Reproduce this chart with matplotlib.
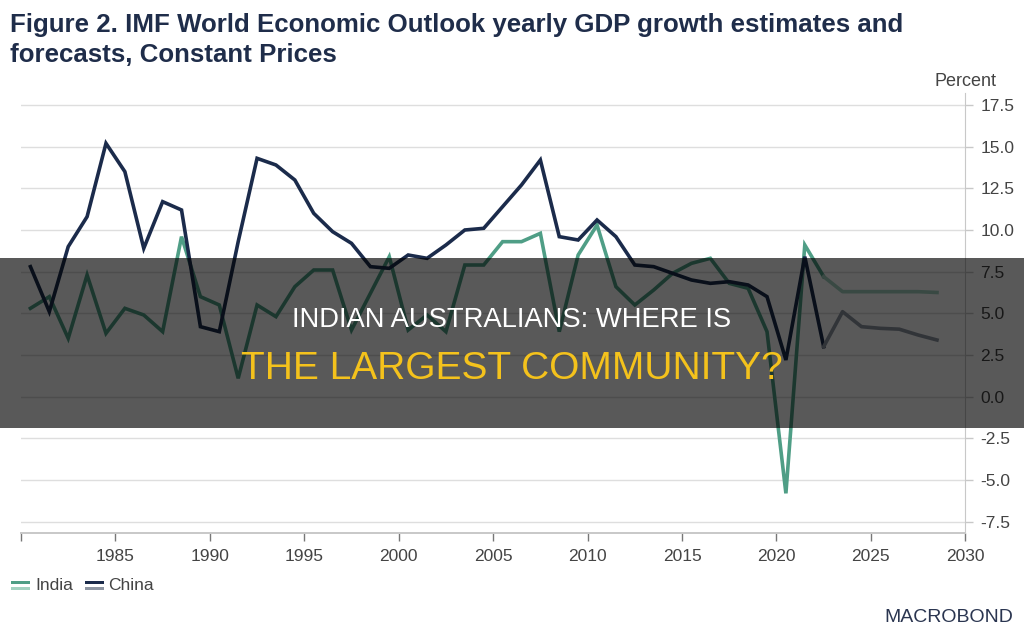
import matplotlib
matplotlib.use("Agg")
import matplotlib.pyplot as plt
from matplotlib.patches import Rectangle
import numpy as np

# ---------------- data ----------------
years = list(range(1980, 2029))
india = [5.3, 6.0, 3.5, 7.3, 3.8, 5.3, 4.9, 3.9, 9.6, 6.0,
         5.5, 1.1, 5.5, 4.8, 6.6, 7.6, 7.6, 4.0, 6.2, 8.4,
         4.0, 4.9, 3.9, 7.9, 7.9, 9.3, 9.3, 9.8, 3.9, 8.5,
         10.3, 6.6, 5.5, 6.4, 7.4, 8.0, 8.3, 6.8, 6.5, 3.9,
         -5.8, 9.1, 7.2, 6.3, 6.3, 6.3, 6.3, 6.3, 6.25]
china = [7.8, 5.1, 9.0, 10.8, 15.2, 13.5, 8.9, 11.7, 11.2, 4.2,
         3.9, 9.3, 14.3, 13.9, 13.0, 11.0, 9.9, 9.2, 7.8, 7.7,
         8.5, 8.3, 9.1, 10.0, 10.1, 11.4, 12.7, 14.2, 9.6, 9.4,
         10.6, 9.6, 7.9, 7.8, 7.4, 7.0, 6.8, 6.9, 6.7, 6.0,
         2.2, 8.4, 3.0, 5.1, 4.2, 4.1, 4.05, 3.7, 3.4]
last_actual = 2022
series_names = ["India", "China"]

title_line1 = "Figure 2. IMF World Economic Outlook yearly GDP growth estimates and"
title_line2 = "forecasts, Constant Prices"
banner_line1 = "INDIAN AUSTRALIANS: WHERE IS"
banner_line2 = "THE LARGEST COMMUNITY?"

# ---------------- style ----------------
c_india = "#4f9e86"
c_india_f = "#a3d2c1"
c_china = "#1b2b4b"
c_china_f = "#8d95a2"
grid_c = "#dedede"
axis_c = "#c8c8c8"
text_c = "#444444"
title_c = "#1f2d4a"

plt.rcParams["font.family"] = ["Liberation Sans", "DejaVu Sans"]

fig = plt.figure(figsize=(10.24, 6.4), dpi=100)
ax = fig.add_axes([0.0205, 0.1677, 0.9222, 0.687])

x = np.array(years) + 0.5
ia = np.array(india)
ch = np.array(china)
k = years.index(last_actual)

lw = 2.6
ax.plot(x[:k + 1], ia[:k + 1], color=c_india, lw=lw, solid_joinstyle="miter", zorder=3)
ax.plot(x[k:], ia[k:], color=c_india_f, lw=lw, zorder=3)
ax.plot(x[:k + 1], ch[:k + 1], color=c_china, lw=lw, solid_joinstyle="miter", zorder=4)
ax.plot(x[k:], ch[k:], color=c_china_f, lw=lw, zorder=4)

ax.set_xlim(1980, 2030)
ax.set_ylim(-8.16, 18.22)
yt = np.arange(-7.5, 17.6, 2.5)
ax.set_yticks(yt)
ax.set_yticklabels([f"{v:.1f}" for v in yt])
xt = list(range(1980, 2031, 5))
ax.set_xticks(xt)
ax.set_xticklabels(["" if v == 1980 else str(v) for v in xt])

ax.grid(axis="y", color=grid_c, lw=1.0, zorder=0)
ax.set_axisbelow(True)
for s in ["top", "left"]:
    ax.spines[s].set_visible(False)
ax.spines["right"].set_color(axis_c)
ax.spines["bottom"].set_color(axis_c)
ax.spines["bottom"].set_linewidth(1.4)
ax.yaxis.tick_right()
ax.tick_params(axis="y", colors=axis_c, labelcolor=text_c, labelsize=12.5, length=6, width=1, pad=5)
ax.tick_params(axis="x", colors="#777777", labelcolor=text_c, labelsize=12.5, length=6, width=1, pad=6)

fig.text(997 / 1024, 1 - 86 / 640, "Percent", ha="right", va="baseline", fontsize=13, color=text_c)

fig.text(10 / 1024, 1 - 32 / 640, title_line1, ha="left", va="baseline", fontsize=18.6,
         fontweight="bold", color=title_c)
fig.text(10 / 1024, 1 - 62 / 640, title_line2, ha="left", va="baseline", fontsize=18.6,
         fontweight="bold", color=title_c)

# legend (manual, two-tone swatches)
def swatch(x0, c1, c2):
    fig.add_artist(Rectangle((x0 / 1024, 1 - 584 / 640), 19 / 1024, 3.5 / 640,
                             transform=fig.transFigure, color=c1, lw=0))
    fig.add_artist(Rectangle((x0 / 1024, 1 - 590 / 640), 19 / 1024, 3.5 / 640,
                             transform=fig.transFigure, color=c2, lw=0))

swatch(11, c_india, c_india_f)
fig.text(35 / 1024, 1 - 586 / 640, series_names[0], ha="left", va="center", fontsize=12.5, color=text_c)
swatch(85, c_china, c_china_f)
fig.text(108 / 1024, 1 - 586 / 640, series_names[1], ha="left", va="center", fontsize=12.5, color=text_c)

fig.text(1013 / 1024, 1 - 617 / 640, "MACROBOND", ha="right", va="center", fontsize=14,
         color="#2a3550")

# banner overlay
fig.add_artist(Rectangle((0, (640 - 428) / 640), 1, 170 / 640, transform=fig.transFigure,
                         color="#000000", alpha=0.65, lw=0, zorder=10))
fig.text(0.5, 1 - 320 / 640, banner_line1, ha="center", va="center", fontsize=19.7,
         color="white", zorder=11)
fig.text(0.5, 1 - 369 / 640, banner_line2, ha="center", va="center", fontsize=28,
         color="#f4c21c", zorder=11)

fig.savefig("out.png", dpi=100)
